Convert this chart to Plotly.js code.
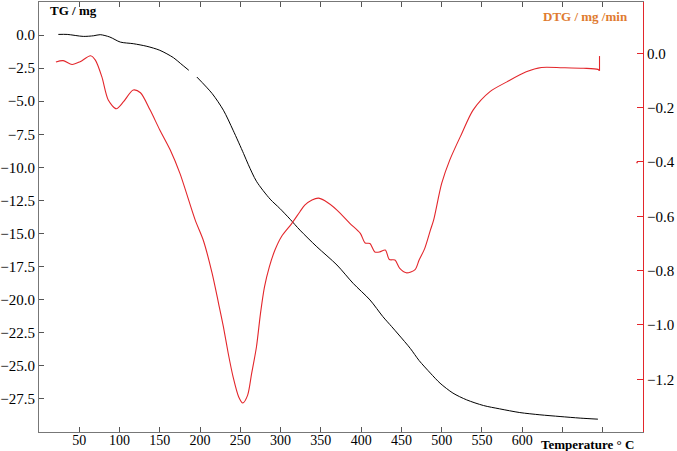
<!DOCTYPE html>
<html>
<head>
<meta charset="utf-8">
<script src="https://cdn.plot.ly/plotly-3.0.1.min.js"></script>
<style>html,body{margin:0;padding:0;background:#fff;}#chart{width:677px;height:451px;}</style>
</head>
<body>
<div id="chart"></div>
<script>
// TG curve (mass, mg) vs temperature (°C); null marks the gap in the trace
const tgTemp = [24, 35, 55, 68, 76, 88, 101, 117, 134, 150, 167, 176, 186, 191,
  196, 215, 229, 241, 254, 260, 270, 287, 299, 312, 324, 345, 370, 390, 411, 427,
  438, 447, 461, 472, 486, 498, 514, 531, 552, 572, 597, 622, 647, 672, 694];
const tgMass = [0.05, 0.05, -0.1, -0.05, 0.03, -0.15, -0.53, -0.65, -0.85, -1.15, -1.71, -2.16, -2.66, null,
  -3.17, -4.42, -5.68, -7.19, -8.95, -9.8, -11.05, -12.4, -13.1, -13.93, -14.74, -16.0, -17.38, -18.76, -20.02, -21.28,
  -22.04, -22.67, -23.68, -24.6, -25.55, -26.31, -27.06, -27.57, -28.0, -28.25, -28.53, -28.7, -28.83, -28.95, -29.03];

// DTG curve (mg/min) vs temperature (°C)
const dtgTemp = [21, 30, 41, 51, 64, 70, 78, 86, 96, 105, 117, 126, 138, 150, 163, 175,
  194, 204, 215, 223, 229, 235, 241, 248, 253, 259, 264, 270, 275, 280, 286, 293, 301, 314,
  324, 330, 339, 347, 355, 370, 386, 399, 405, 411, 417, 423, 430, 435, 442, 448, 456, 467,
  472, 479, 486, 490, 500, 510, 525, 539, 560, 581, 605, 624, 650, 676, 694, 696];
const dtgRate = [-0.032, -0.027, -0.041, -0.031, -0.009, -0.025, -0.086, -0.172, -0.204, -0.178, -0.135, -0.145, -0.209, -0.282, -0.356, -0.442,
  -0.614, -0.688, -0.81, -0.921, -1.007, -1.105, -1.191, -1.265, -1.287, -1.259, -1.179, -1.081, -0.958, -0.86, -0.786, -0.724, -0.675, -0.626,
  -0.583, -0.559, -0.54, -0.533, -0.543, -0.577, -0.626, -0.663, -0.698, -0.70, -0.731, -0.731, -0.724, -0.759, -0.761, -0.792, -0.808, -0.796,
  -0.761, -0.718, -0.651, -0.614, -0.479, -0.393, -0.295, -0.209, -0.141, -0.105, -0.068, -0.052, -0.053, -0.055, -0.059, -0.064];

// vertical jump at the end of the DTG record
const dtgEndTemp = [696, 696];
const dtgEndRate = [-0.064, -0.01];

// stray DTG point near the right axis
const dtgStrayTemp = [742, 743.5];
const dtgStrayRate = [-0.400, -0.402];

const xTicks = [50, 100, 150, 200, 250, 300, 350, 400, 450, 500, 550, 600, 650, 700];
const xTickText = ["50", "100", "150", "200", "250", "300", "350", "400", "450", "500", "550", "600", "", ""];
const tgTicks = [0, -2.5, -5, -7.5, -10, -12.5, -15, -17.5, -20, -22.5, -25, -27.5];
const dtgTicks = [0, -0.2, -0.4, -0.6, -0.8, -1.0, -1.2];

const red = "#e3262b";
const serif = "Liberation Serif, Times New Roman, serif";

const traces = [
  {x: tgTemp, y: tgMass, type: "scatter", mode: "lines", connectgaps: false,
   line: {color: "#000", width: 1, shape: "spline", smoothing: 0.8}, yaxis: "y", hoverinfo: "skip"},
  {x: dtgTemp, y: dtgRate, type: "scatter", mode: "lines",
   line: {color: red, width: 1.1, shape: "spline", smoothing: 0.8}, yaxis: "y2", hoverinfo: "skip"},
  {x: dtgEndTemp, y: dtgEndRate, type: "scatter", mode: "lines",
   line: {color: red, width: 1.1}, yaxis: "y2", hoverinfo: "skip"},
  {x: dtgStrayTemp, y: dtgStrayRate, type: "scatter", mode: "lines",
   line: {color: red, width: 2}, yaxis: "y2", hoverinfo: "skip"}
];

const layout = {
  width: 677, height: 451,
  margin: {l: 39, r: 34, t: 2, b: 19, pad: 0},
  paper_bgcolor: "#fff", plot_bgcolor: "#fff",
  showlegend: false,
  font: {family: serif, color: "#000"},
  xaxis: {
    range: [0, 750], showgrid: false, zeroline: false,
    showline: true, linecolor: "#777", linewidth: 1, mirror: "ticks",
    ticks: "inside", ticklen: 5, tickcolor: "#555", tickwidth: 1,
    tickmode: "array", tickvals: xTicks, ticktext: xTickText,
    ticklabelstandoff: -5,
    tickfont: {family: serif, size: 14, color: "#000"}
  },
  yaxis: {
    range: [-30, 2.5], showgrid: false, zeroline: false,
    showline: true, linecolor: "#777", linewidth: 1,
    ticks: "inside", ticklen: 5, tickcolor: "#555", tickwidth: 1,
    tickmode: "array", tickvals: tgTicks, tickformat: ".1f",
    tickfont: {family: serif, size: 15, color: "#000"}
  },
  yaxis2: {
    range: [-1.394, 0.189], overlaying: "y", side: "right",
    showgrid: false, zeroline: false,
    showline: true, linecolor: red, linewidth: 1,
    ticks: "inside", ticklen: 6, tickcolor: red, tickwidth: 1,
    tickmode: "array", tickvals: dtgTicks, tickformat: ".1f",
    tickfont: {family: serif, size: 15, color: "#000"}
  },
  annotations: [
    {text: "<b>TG / mg</b>", xref: "paper", yref: "paper", x: 0.0149, y: 0.981,
     xanchor: "left", yanchor: "middle", showarrow: false,
     font: {family: serif, size: 13, color: "#000"}},
    {text: "<b>DTG / mg /min</b>", xref: "paper", yref: "paper", x: 0.978, y: 0.966,
     xanchor: "right", yanchor: "middle", showarrow: false,
     font: {family: serif, size: 13, color: "#e07b30"}},
    {text: "<b>Temperature ° C</b>", xref: "paper", yref: "paper", x: 0.988, y: -0.0287,
     xanchor: "right", yanchor: "middle", showarrow: false,
     font: {family: serif, size: 13, color: "#000"}}
  ]
};

Plotly.newPlot("chart", traces, layout, {staticPlot: true, displayModeBar: false});
</script>
</body>
</html>
